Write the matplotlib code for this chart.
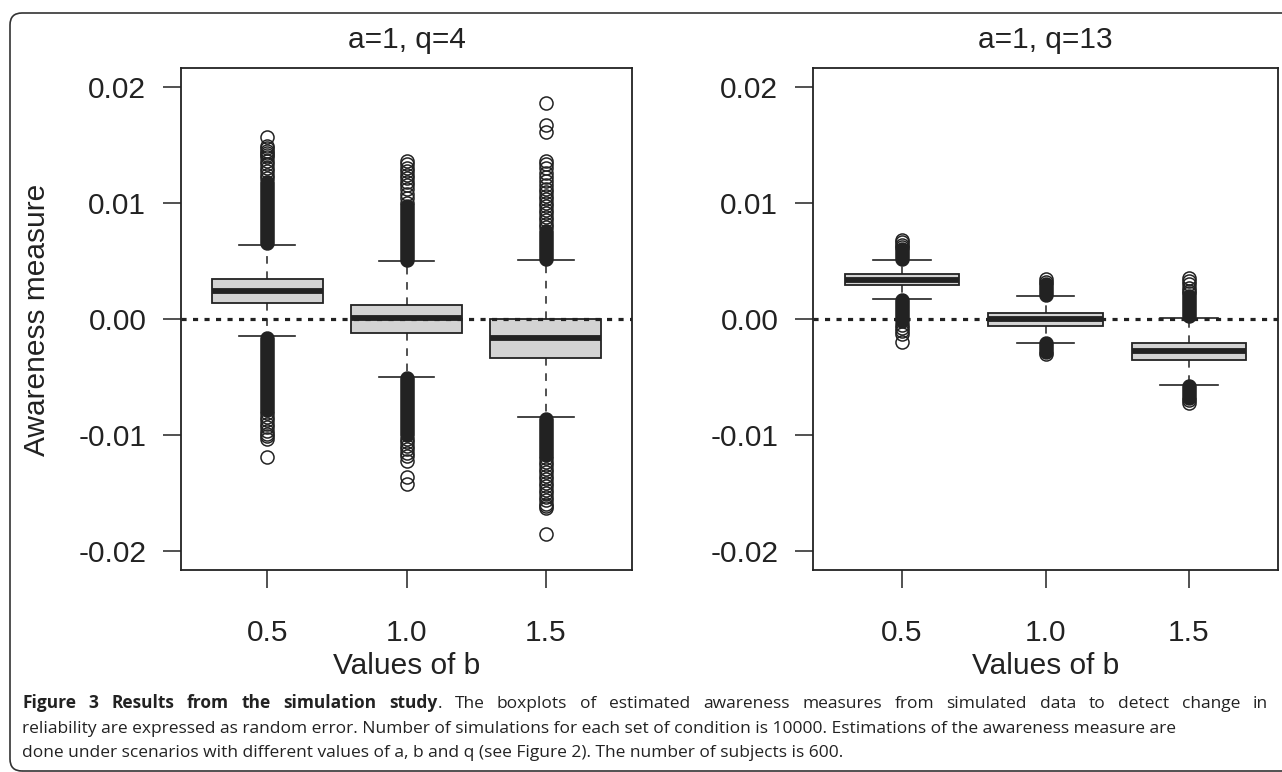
import matplotlib
matplotlib.use('Agg')
import matplotlib.pyplot as plt
from matplotlib.patches import FancyBboxPatch
from matplotlib.transforms import IdentityTransform

plt.rcParams['font.family'] = ['Liberation Sans', 'DejaVu Sans']

# ---- data ----
b_labels = ['0.5', '1.0', '1.5']
panel_titles = ['a=1, q=4', 'a=1, q=13']

# a=1, q=4
q4_med = [0.00245, 0.00005, -0.00165]
q4_q1 = [0.00140, -0.00123, -0.00337]
q4_q3 = [0.00341, 0.00123, -0.00003]
q4_whislo = [-0.00149, -0.00495, -0.00844]
q4_whishi = [0.00635, 0.00498, 0.00506]
# dense runs of outliers (drawn as solid columns), low/high ends
q4_dense_up = [(0.0065, 0.0118), (0.0051, 0.0097), (0.0052, 0.0076)]
q4_dense_dn = [(-0.0078, -0.0016), (-0.0100, -0.0051), (-0.0117, -0.0086)]
q4_fliers = [
    [0.0121, 0.0124, 0.0127, 0.0130, 0.0133, 0.0136, 0.0139, 0.0141, 0.0143,
     0.0145, 0.0147, 0.0149, 0.0157,
     -0.0081, -0.0084, -0.0087, -0.0090, -0.0093, -0.0096, -0.0099, -0.0101,
     -0.0103, -0.0119],
    [0.0100, 0.0104, 0.0108, 0.0112, 0.0115, 0.0118, 0.0121, 0.0124, 0.0127,
     0.0130, 0.0133, 0.0136,
     -0.0103, -0.0106, -0.0109, -0.0112, -0.0115, -0.0118, -0.0122, -0.0136,
     -0.0142],
    [0.0079, 0.0082, 0.0085, 0.0088, 0.0091, 0.0094, 0.0097, 0.0100, 0.0103,
     0.0106, 0.0109, 0.0112, 0.0115, 0.0119, 0.0122, 0.0126, 0.0130, 0.0133,
     0.0136, 0.0161, 0.0167, 0.0186,
     -0.0120, -0.0123, -0.0126, -0.0129, -0.0132, -0.0135, -0.0138, -0.0141,
     -0.0144, -0.0147, -0.0150, -0.0153, -0.0156, -0.0159, -0.0161, -0.0163,
     -0.0185],
]

# a=1, q=13
q13_med = [0.00337, 0.0, -0.00275]
q13_q1 = [0.00292, -0.00058, -0.00352]
q13_q3 = [0.00387, 0.00049, -0.00203]
q13_whislo = [0.00169, -0.00203, -0.00567]
q13_whishi = [0.00507, 0.00198, 0.00010]
q13_dense_up = [(0.0052, 0.0060), (0.0021, 0.0030), (0.0003, 0.0020)]
q13_dense_dn = [(-0.0002, 0.0016), (-0.0028, -0.0021), (-0.0068, -0.0058)]
q13_fliers = [
    [0.0062, 0.0064, 0.0066, 0.0068, -0.0005, -0.0008, -0.0010, -0.0013, -0.0020],
    [0.0032, 0.0034, -0.0030],
    [0.0022, 0.0024, 0.0027, 0.0030, 0.0033, 0.0035, -0.0070, -0.0072],
]

y_ticks = [-0.02, -0.01, 0.0, 0.01, 0.02]
y_ticklabels = ['-0.02', '-0.01', '0.00', '0.01', '0.02']

caption_bold = 'Figure 3 Results from the simulation study'
caption_line1 = '. The boxplots of estimated awareness measures from simulated data to detect change in'
caption_line2 = ('reliability are expressed as random error. Number of simulations for each set of '
                 'condition is 10000. Estimations of the awareness measure are')
caption_line3 = ('done under scenarios with different values of a, b and q (see Figure 2). '
                 'The number of subjects is 600.')

ink = '#222222'
W, H = 1282, 772
fig = plt.figure(figsize=(W / 100, H / 100), dpi=100)

# outer rounded frame
frame = FancyBboxPatch((10, 1), 1300, 758, boxstyle='round,pad=0,rounding_size=12',
                       transform=IdentityTransform(), facecolor='none',
                       edgecolor='#333333', linewidth=1.2)
fig.add_artist(frame)

ax1 = fig.add_axes([181 / W, 1 - 570 / H, 451 / W, 502 / H])
ax2 = fig.add_axes([813 / W, 1 - 570 / H, 465 / W, 502 / H])

panels = [
    (ax1, q4_med, q4_q1, q4_q3, q4_whislo, q4_whishi, q4_dense_up, q4_dense_dn, q4_fliers),
    (ax2, q13_med, q13_q1, q13_q3, q13_whislo, q13_whishi, q13_dense_up, q13_dense_dn, q13_fliers),
]

positions = [1, 2, 3]
ms = 9.4

for k, (ax, med, q1, q3, wlo, whi, dup, ddn, fl) in enumerate(panels):
    stats = []
    for i in range(3):
        stats.append(dict(med=med[i], q1=q1[i], q3=q3[i], whislo=wlo[i],
                          whishi=whi[i], fliers=fl[i]))
    ax.bxp(stats, positions=positions, widths=0.8, capwidths=0.4,
           patch_artist=True, showfliers=True,
           boxprops=dict(facecolor='#d3d3d3', edgecolor=ink, linewidth=1.3),
           medianprops=dict(color=ink, linewidth=4.2, solid_capstyle='butt'),
           whiskerprops=dict(color=ink, linewidth=1.1, linestyle=(0, (5, 5))),
           capprops=dict(color=ink, linewidth=1.2),
           flierprops=dict(marker='o', markersize=ms, markerfacecolor='none',
                           markeredgecolor=ink, markeredgewidth=1.1, linestyle='none'))
    # dense stacks of outliers appear as solid columns
    for i in range(3):
        for lo, hi in (dup[i], ddn[i]):
            ax.vlines(positions[i], lo, hi, colors=ink, linewidth=ms + 1.1,
                      capstyle='round', zorder=3)

    ax.axhline(0, color=ink, linewidth=2.3, linestyle=(0, (1.6, 2.0)),
               dash_capstyle='butt', zorder=5)

    ax.set_xlim(0.38, 3.62)
    ax.set_ylim(-0.0216, 0.0216)
    ax.set_xticks(positions)
    ax.set_xticklabels(b_labels)
    ax.set_yticks(y_ticks)
    ax.set_yticklabels(y_ticklabels)
    ax.tick_params(axis='both', direction='out', length=13, width=1.1,
                   color=ink, labelsize=21.5, labelcolor=ink)
    ax.tick_params(axis='x', pad=22)
    ax.tick_params(axis='y', pad=12)
    for s in ax.spines.values():
        s.set_linewidth(1.3)
        s.set_color(ink)

    cx = (ax.get_position().x0 + ax.get_position().x1) / 2
    fig.text(cx, 1 - 40 / H, panel_titles[k], ha='center', va='center',
             fontsize=21.5, color=ink)
    fig.text(cx, 1 - 666 / H, 'Values of b', ha='center', va='center',
             fontsize=21.5, color=ink)

fig.text(37 / W, 1 - 320 / H, 'Awareness measure', rotation=90,
         ha='center', va='center', fontsize=21.5, color=ink)

# caption, first line justified to the right margin
cap_font = ['Open Sans', 'DejaVu Sans']
cap_size = 12.5
left_px, right_px = 22, 1268
renderer = fig.canvas.get_renderer()


def text_width(s, weight):
    t = fig.text(0, 0, s, fontsize=cap_size, fontweight=weight, family=cap_font)
    w = t.get_window_extent(renderer).width
    t.remove()
    return w


tokens = [(w, 'bold') for w in caption_bold.split(' ')]
rest = caption_line1.split(' ')
tokens[-1] = (tokens[-1][0], 'bold', rest[0])  # "study" followed by "."
words = []
for tok in tokens[:-1]:
    words.append([(tok[0], 'bold')])
words.append([(tokens[-1][0], 'bold'), (tokens[-1][2], 'normal')])
for w in rest[1:]:
    words.append([(w, 'normal')])

word_w = [sum(text_width(s, wt) for s, wt in parts) for parts in words]
gap = (right_px - left_px - sum(word_w)) / (len(words) - 1)
x = left_px
for parts, ww in zip(words, word_w):
    xx = x
    for s, wt in parts:
        fig.text(xx / W, 1 - 708 / H, s, fontsize=cap_size, fontweight=wt,
                 family=cap_font, ha='left', va='baseline', color=ink)
        xx += text_width(s, wt)
    x += ww + gap

fig.text(left_px / W, 1 - 733 / H, caption_line2, fontsize=cap_size, family=cap_font,
         ha='left', va='baseline', color=ink)
fig.text(left_px / W, 1 - 757 / H, caption_line3, fontsize=cap_size, family=cap_font,
         ha='left', va='baseline', color=ink)

fig.savefig('out.png', dpi=100)
